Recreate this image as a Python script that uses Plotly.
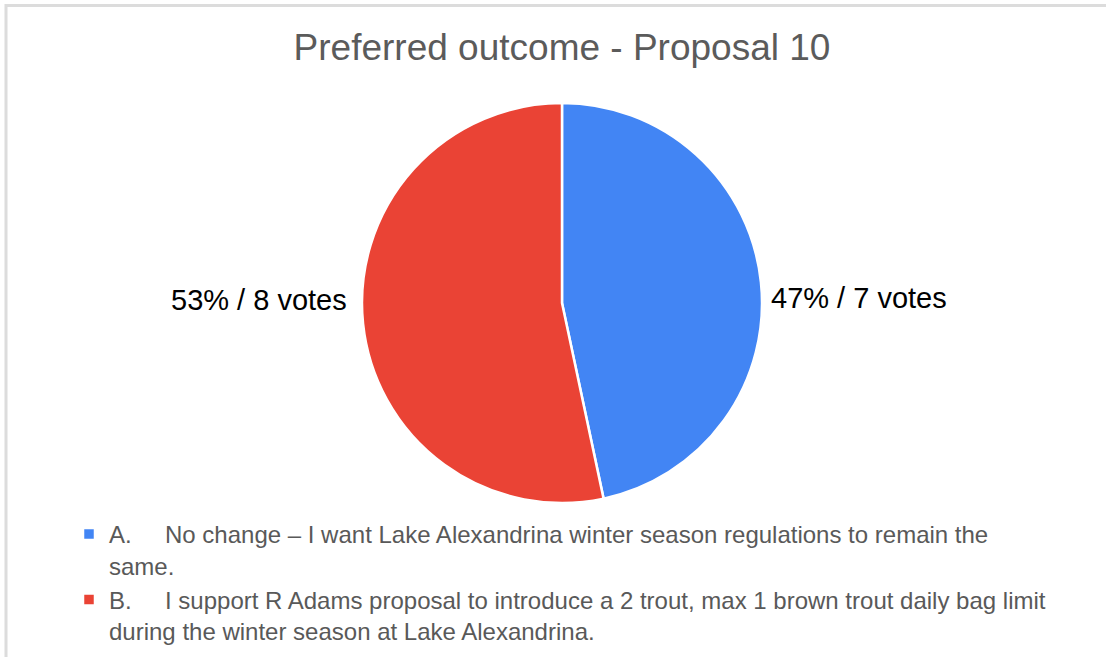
import plotly.graph_objects as go

title_text = "Preferred outcome - Proposal 10"
categories = [
    "A.\u00a0\u00a0\u00a0\u00a0\u00a0No change \u2013 I want Lake Alexandrina winter season regulations to remain the<br>same.",
    "B.\u00a0\u00a0\u00a0\u00a0\u00a0I support R Adams proposal to introduce a 2 trout, max 1 brown trout daily bag limit<br>during the winter season at Lake Alexandrina.",
]
votes = [7, 8]
colors = ["#4285F4", "#EA4335"]

W, H = 1106, 657
FONT = "Liberation Sans, Arial, sans-serif"

total = sum(votes)
label_texts = [f"{round(100 * v / total)}% / {v} votes" for v in votes]

fig = go.Figure(
    go.Pie(
        labels=categories,
        values=votes,
        sort=False,
        direction="clockwise",
        rotation=0,
        marker=dict(colors=colors, line=dict(color="white", width=2.5)),
        textinfo="none",
        hoverinfo="label+value+percent",
        domain=dict(x=[362 / W, 762 / W], y=[1 - 503 / H, 1 - 103 / H]),
        automargin=False,
    )
)

# Slice labels placed beside the pie at its vertical centre (as in the reference)
fig.add_annotation(
    text=label_texts[0], xref="paper", yref="paper",
    x=769 / W, y=1 - 298 / H, xanchor="left", yanchor="middle",
    showarrow=False, font=dict(family=FONT, size=29, color="#000000"),
)
fig.add_annotation(
    text=label_texts[1], xref="paper", yref="paper",
    x=349 / W, y=1 - 300 / H, xanchor="right", yanchor="middle",
    showarrow=False, font=dict(family=FONT, size=29, color="#000000"),
)

fig.update_layout(
    width=W,
    height=H,
    margin=dict(l=0, r=0, t=0, b=0),
    paper_bgcolor="white",
    plot_bgcolor="white",
    title=dict(
        text=title_text,
        x=562 / W,
        xanchor="center",
        y=1 - 47 / H,
        yanchor="middle",
        font=dict(family=FONT, size=37, color="#5b5b5b"),
    ),
    showlegend=True,
    legend=dict(
        x=69 / W,
        xanchor="left",
        y=1 - 512 / H,
        yanchor="top",
        orientation="v",
        valign="top",
        traceorder="normal",
        font=dict(family=FONT, size=24, color="#595959"),
        itemclick=False,
        itemwidth=30,
    ),
    shapes=[
        dict(
            type="rect",
            xref="paper",
            yref="paper",
            x0=6 / W,
            x1=1 + 10 / W,
            y0=-10 / H,
            y1=1 - 5.5 / H,
            line=dict(color="#dcdcdc", width=3),
            fillcolor="rgba(0,0,0,0)",
            layer="below",
        )
    ],
)

fig.write_html("out.html")
